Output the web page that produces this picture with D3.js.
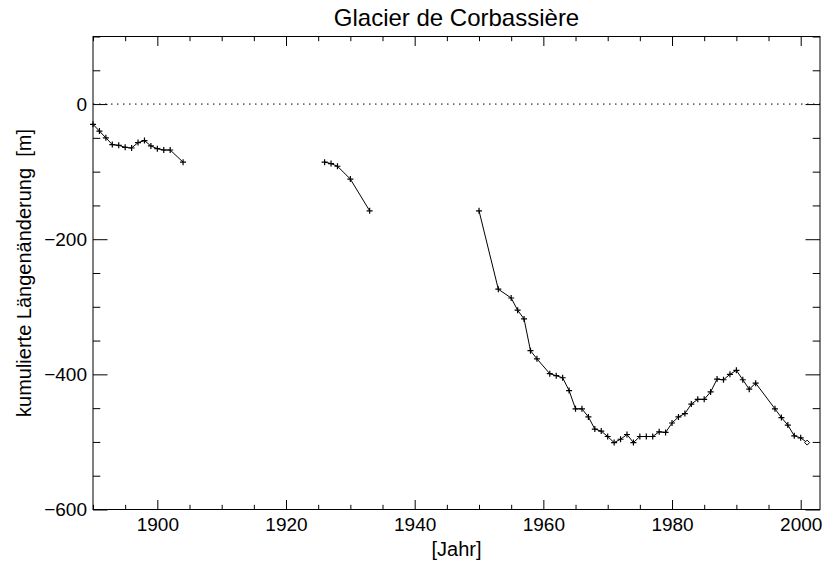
<!DOCTYPE html>
<html><head><meta charset="utf-8">
<script src="https://cdn.jsdelivr.net/npm/d3@7"></script>
<style>body{margin:0;background:#fff}svg{display:block}text{font-family:"Liberation Sans",Arial,Helvetica,sans-serif;fill:#000;white-space:pre}</style>
</head><body><div id="chart"></div>
<script>
// Data (segments separated by observation gaps)
const years1 = [1890,1891,1892,1893,1894,1895,1896,1897,1898,1899,1900,1901,1902,1904];
const values1 = [-30,-40,-50,-60,-61,-64,-65,-57,-54,-62,-66,-68,-68,-86];
const years2 = [1926,1927,1928,1930,1933];
const values2 = [-86,-88,-92,-111,-158];
const years3 = [1950,1953,1955,1956,1957,1958,1959,1961,1962,1963,1964,1965,1966,1967,1968,1969,1970,1971,1972,1973,1974,1975,1976,1977,1978,1979,1980,1981,1982,1983,1984,1985,1986,1987,1988,1989,1990,1991,1992,1993,1996,1997,1998,1999,2000,2001];
const values3 = [-158,-274,-287,-305,-318,-365,-377,-399,-402,-405,-424,-451,-451,-463,-481,-484,-492,-501,-496,-489,-501,-492,-492,-492,-485,-486,-472,-463,-458,-444,-437,-437,-426,-407,-408,-400,-394,-408,-422,-413,-451,-464,-475,-491,-494,-501];
const xMajorTicks = [1900,1920,1940,1960,1980,2000];
const yMajorTicks = [-600,-400,-200,0];
const titleText = "Glacier de Corbassière";
const xLabel = "[Jahr]";
const yLabel = "kumulierte Längenänderung  [m]";

const W = 825, H = 562;
const L = 93, R = 820, T = 36.5, B = 509.5;
const svg = d3.select("#chart").append("svg").attr("width", W).attr("height", H);
const x = d3.scaleLinear().domain([1890, 2003]).range([L, R]);
const y = d3.scaleLinear().domain([-600, 100]).range([B, T]);

const segments = [
  years1.map((d,i)=>({yr:d, v:values1[i]})),
  years2.map((d,i)=>({yr:d, v:values2[i]})),
  years3.map((d,i)=>({yr:d, v:values3[i]}))
];

// zero line (dotted)
svg.append("line").attr("x1", L).attr("x2", R).attr("y1", y(0)).attr("y2", y(0))
  .attr("stroke", "#000").attr("stroke-width", 1).attr("stroke-dasharray", "1.5,4.5");

// box
svg.append("rect").attr("x", L).attr("y", T).attr("width", R-L).attr("height", B-T)
  .attr("fill", "none").attr("stroke", "#000").attr("stroke-width", 1);

const fmt = d => d < 0 ? "\u2212" + Math.abs(d) : String(d);
const xMinor = d3.range(1890, 2004, 5).filter(d => !xMajorTicks.includes(d));
const yMinor = d3.range(-600, 101, 50).filter(d => !yMajorTicks.includes(d));
const xMajLen = 9.5, xMinLen = 4.7, yMajLen = 14.5, yMinLen = 7.3;

// bottom axis (inner ticks)
const gx = svg.append("g").attr("transform", `translate(0,${B})`)
  .call(d3.axisBottom(x).tickValues(xMajorTicks).tickSize(-xMajLen).tickPadding(8).tickFormat(d3.format("d")));
gx.select(".domain").remove();
gx.selectAll("text").attr("font-size", 19).attr("font-family", "Liberation Sans, Arial, sans-serif");
const gx2 = svg.append("g").attr("transform", `translate(0,${B})`)
  .call(d3.axisBottom(x).tickValues(xMinor).tickSize(-xMinLen).tickFormat(""));
gx2.select(".domain").remove();
// top axis
const gt = svg.append("g").attr("transform", `translate(0,${T})`)
  .call(d3.axisTop(x).tickValues(xMajorTicks).tickSize(-xMajLen).tickFormat(""));
gt.select(".domain").remove();
const gt2 = svg.append("g").attr("transform", `translate(0,${T})`)
  .call(d3.axisTop(x).tickValues(xMinor).tickSize(-xMinLen).tickFormat(""));
gt2.select(".domain").remove();
// left axis
const gy = svg.append("g").attr("transform", `translate(${L},0)`)
  .call(d3.axisLeft(y).tickValues(yMajorTicks).tickSize(-yMajLen).tickPadding(6).tickFormat(fmt));
gy.select(".domain").remove();
gy.selectAll("text").attr("font-size", 19).attr("font-family", "Liberation Sans, Arial, sans-serif").attr("x", -6);
const gy2 = svg.append("g").attr("transform", `translate(${L},0)`)
  .call(d3.axisLeft(y).tickValues(yMinor).tickSize(-yMinLen).tickFormat(""));
gy2.select(".domain").remove();
// right axis
const gr = svg.append("g").attr("transform", `translate(${R},0)`)
  .call(d3.axisRight(y).tickValues(yMajorTicks).tickSize(-yMajLen).tickFormat(""));
gr.select(".domain").remove();
const gr2 = svg.append("g").attr("transform", `translate(${R},0)`)
  .call(d3.axisRight(y).tickValues(yMinor).tickSize(-yMinLen).tickFormat(""));
gr2.select(".domain").remove();
svg.selectAll(".tick line").attr("stroke", "#000").attr("stroke-width", 1);

// lines
const line = d3.line().x(d => x(d.yr)).y(d => y(d.v));
segments.forEach(seg => {
  svg.append("path").datum(seg).attr("d", line).attr("fill", "none").attr("stroke", "#000").attr("stroke-width", 1);
});
// plus markers
const allPts = segments.flat();
const last = allPts[allPts.length-1];
svg.append("g").selectAll("path").data(allPts.slice(0, -1)).join("path")
  .attr("d", d => { const cx = x(d.yr), cy = y(d.v); return `M${cx-3},${cy}H${cx+3}M${cx},${cy-3}V${cy+3}`; })
  .attr("stroke", "#000").attr("stroke-width", 1.2).attr("fill", "none");
// diamond at the last point
svg.append("path")
  .attr("d", () => { const cx = x(last.yr), cy = y(last.v); return `M${cx-2.5},${cy}L${cx},${cy-2.5}L${cx+2.5},${cy}L${cx},${cy+2.5}Z`; })
  .attr("stroke", "#000").attr("stroke-width", 1).attr("fill", "#fff");

// titles
svg.append("text").attr("x", (L+R)/2).attr("y", 26).attr("text-anchor", "middle").attr("font-size", 24).text(titleText);
svg.append("text").attr("x", (L+R)/2).attr("y", 556).attr("text-anchor", "middle").attr("font-size", 20).text(xLabel);
svg.append("text").attr("transform", `translate(31,${(T+B)/2}) rotate(-90)`).attr("text-anchor", "middle").attr("font-size", 20).text(yLabel);
</script></body></html>
